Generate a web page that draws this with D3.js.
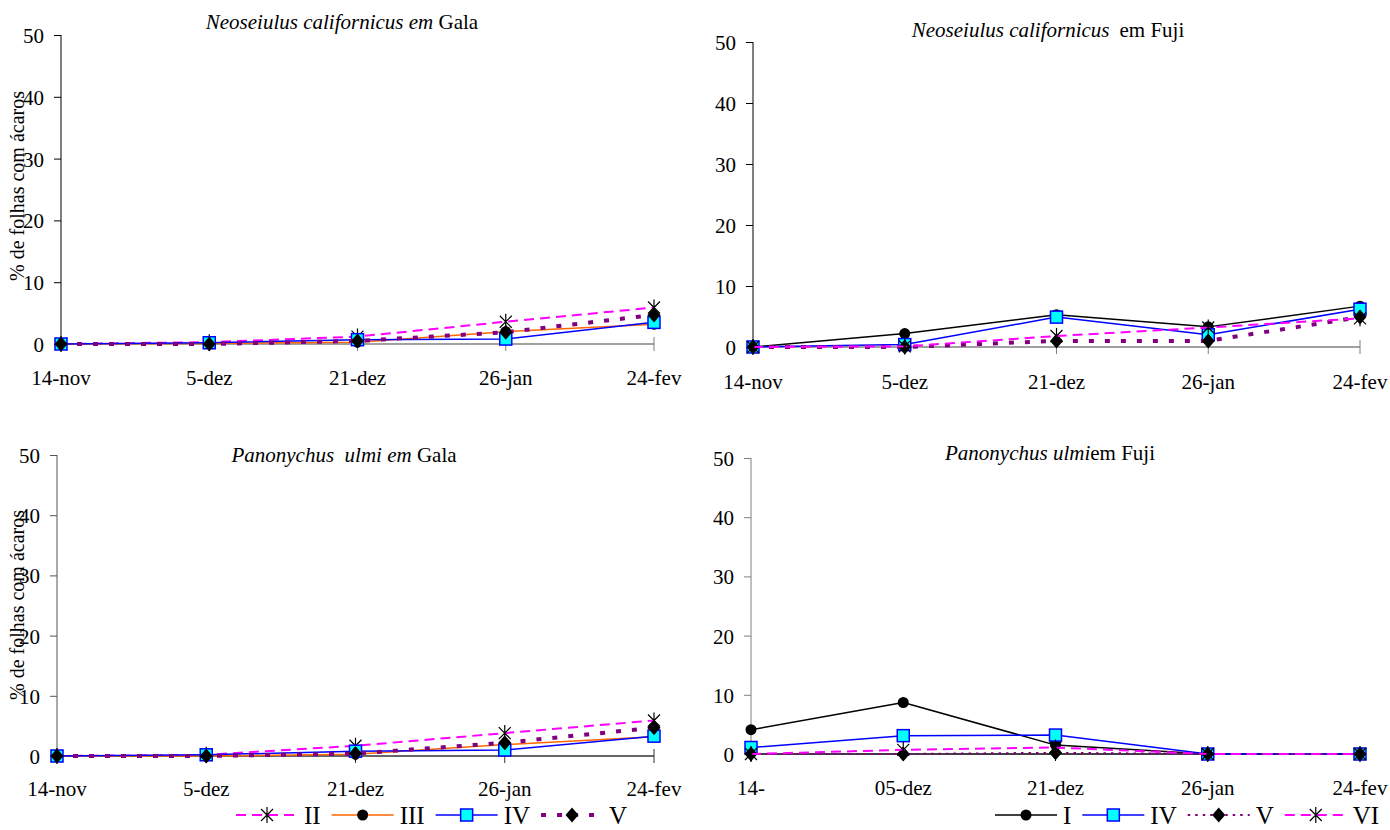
<!DOCTYPE html>
<html><head><meta charset="utf-8">
<script src="https://cdn.jsdelivr.net/npm/d3@7"></script>
<style>
body{margin:0;background:#fff}
svg{display:block}
text{font-family:"Liberation Serif","Times New Roman",Times,"DejaVu Serif",serif;fill:#000}
</style>
</head><body><svg id="chart" width="1390" height="830"></svg>
<script>
// ---------- data ----------
const categories = ["14-nov", "5-dez", "21-dez", "26-jan", "24-fev"];
const categoriesUlmiFuji = ["14-", "05-dez", "21-dez", "26-jan", "24-fev"];
const yTicks = [0, 10, 20, 30, 40, 50];

// Neoseiulus californicus em Gala
const ncGalaII  = [0, 0.3, 1.2, 3.6, 5.9];
const ncGalaIII = [0, 0.1, 0.3, 2.0, 3.2];
const ncGalaIV  = [0, 0.2, 0.7, 0.8, 3.5];
const ncGalaV   = [0, 0.0, 0.5, 1.9, 4.7];

// Neoseiulus californicus em Fuji
const ncFujiI  = [0, 2.2, 5.3, 3.3, 6.7];
const ncFujiIV = [0, 0.4, 4.9, 2.0, 6.2];
const ncFujiV  = [0, 0.0, 1.0, 1.0, 4.9];
const ncFujiVI = [0, 0.1, 1.8, 3.2, 4.7];

// Panonychus ulmi em Gala
const puGalaII  = [0, 0.2, 1.7, 3.8, 5.9];
const puGalaIII = [0, 0.0, 0.3, 1.9, 3.2];
const puGalaIV  = [0, 0.2, 0.8, 1.0, 3.3];
const puGalaV   = [0, 0.0, 0.4, 2.2, 4.7];

// Panonychus ulmi em Fuji
const puFujiI  = [4.1, 8.7, 1.5, 0, 0];
const puFujiIV = [1.1, 3.1, 3.2, 0, 0];
const puFujiV  = [0, 0, 0.2, 0, 0];
const puFujiVI = [0, 0.7, 1.1, 0, 0];

const legendGala = ["II", "III", "IV", "V"];
const legendFuji = ["I", "IV", "V", "VI"];

// ---------- styles ----------
const styles = {
  I:   {color: "#000000", width: 1.5, dash: null, marker: "circle"},
  II:  {color: "#FF00FF", width: 2,   dash: "10,6", marker: "star"},
  III: {color: "#FF6600", width: 1.5, dash: null, marker: "circle"},
  IV:  {color: "#0000FF", width: 1.5, dash: null, marker: "square"},
  V:   {color: "#800080", width: 4,   dash: "5,11", marker: "diamond"},
  Vthin: {color: "#800080", width: 2, dash: "2.5,5", marker: "diamond"},
  VI:  {color: "#FF00FF", width: 2,   dash: "10,6", marker: "star"}
};
const FONT = '"Liberation Serif","Times New Roman",Times,"DejaVu Serif",serif';

const svg = d3.select("#chart");

function drawMarker(g, type, x, y) {
  if (type === "circle") {
    g.append("circle").attr("cx", x).attr("cy", y).attr("r", 5.5).attr("fill", "#000");
  } else if (type === "square") {
    g.append("rect").attr("x", x - 6).attr("y", y - 6).attr("width", 12).attr("height", 12)
      .attr("fill", "#00FFFF").attr("stroke", "#0000FF").attr("stroke-width", 1.5);
  } else if (type === "diamond") {
    g.append("path").attr("d", `M${x},${y - 7.5}L${x + 6.5},${y}L${x},${y + 7.5}L${x - 6.5},${y}Z`).attr("fill", "#000");
  } else if (type === "star") {
    g.append("path").attr("d", `M${x - 6},${y - 6}L${x + 6},${y + 6}M${x - 6},${y + 6}L${x + 6},${y - 6}M${x},${y - 8}L${x},${y + 8}`)
      .attr("stroke", "#000").attr("stroke-width", 1.2).attr("fill", "none");
  }
}

function drawPanel(p) {
  const g = svg.append("g");
  const x = d3.scalePoint().domain(d3.range(p.labels.length)).range([p.x0, p.x1]);
  const y = d3.scaleLinear().domain([0, 50]).range([p.yBot, p.yTop]);

  // title
  const t = g.append("text").attr("x", p.titleX).attr("y", p.titleY)
    .attr("text-anchor", "middle").style("font-size", "21px").style("font-family", FONT);
  p.title.forEach(part => {
    const ts = t.append("tspan").text(part.t).style("font-style", part.i ? "italic" : "normal");
    if (part.dx) ts.attr("dx", part.dx);
  });

  // y axis
  const yAxis = d3.axisLeft(y).tickValues(yTicks).tickSize(7).tickPadding(10);
  const ya = g.append("g").attr("transform", `translate(${p.x0},0)`).call(yAxis);
  ya.attr("font-family", null).attr("font-size", null);
  ya.select(".domain").attr("stroke", p.yColor).attr("d", `M-0,${p.yTop}H0V${p.yBot}`);
  ya.selectAll(".tick line").attr("stroke", p.yColor);
  ya.selectAll(".tick text").style("font-size", "21px").style("font-family", FONT).attr("dy", "0.36em");

  // x axis
  const xa = g.append("g");
  xa.append("line").attr("x1", p.x0).attr("x2", p.x1).attr("y1", p.yBot).attr("y2", p.yBot)
    .attr("stroke", p.xColor).attr("stroke-width", 1.5);
  p.labels.forEach((lab, i) => {
    xa.append("line").attr("x1", x(i)).attr("x2", x(i)).attr("y1", p.yBot - 7).attr("y2", p.yBot + 7)
      .attr("stroke", p.xColor).attr("stroke-width", 1);
    xa.append("text").attr("x", x(i)).attr("y", p.labelY).attr("text-anchor", "middle")
      .style("font-size", "21px").style("font-family", FONT).text(lab);
  });

  // y label
  if (p.yLabel) {
    g.append("text").attr("transform", `translate(24,${p.yLabelC}) rotate(-90)`)
      .attr("text-anchor", "middle").style("font-size", "20px").style("font-family", FONT)
      .text("% de folhas com ácaros");
  }

  // series
  const line = d3.line().x((d, i) => x(i)).y(d => y(d));
  p.series.forEach(s => {
    const st = styles[s.style];
    const sg = g.append("g");
    sg.append("path").attr("d", line(s.values)).attr("fill", "none")
      .attr("stroke", st.color).attr("stroke-width", st.width)
      .attr("stroke-dasharray", st.dash).attr("stroke-linejoin", "round");
    s.values.forEach((v, i) => drawMarker(sg, st.marker, x(i), y(v)));
  });

  // legend
  if (p.legend) {
    let cx = p.legendX;
    p.legend.forEach((name, k) => {
      const st = styles[p.legendStyles[k]];
      const lg = g.append("g");
      lg.append("line").attr("x1", cx).attr("x2", cx + 62).attr("y1", p.legendY).attr("y2", p.legendY)
        .attr("stroke", st.color).attr("stroke-width", st.width).attr("stroke-dasharray", st.dash);
      drawMarker(lg, st.marker, cx + 31, p.legendY);
      const tx = lg.append("text").attr("x", cx + 68).attr("y", p.legendY + 8.5)
        .style("font-size", "25px").style("font-family", FONT).text(name);
      cx += 68 + tx.node().getComputedTextLength() + 11;
    });
  }
}

drawPanel({
  x0: 61, x1: 654, yTop: 35, yBot: 344, labels: categories, labelY: 385,
  titleX: 342, titleY: 29,
  title: [{t: "Neoseiulus californicus em", i: true}, {t: " Gala", i: false}],
  yColor: "#000", xColor: "#808080", yLabel: true, yLabelC: 186,
  series: [
    {style: "II", values: ncGalaII},
    {style: "III", values: ncGalaIII},
    {style: "IV", values: ncGalaIV},
    {style: "V", values: ncGalaV}
  ]
});

drawPanel({
  x0: 753, x1: 1360, yTop: 42, yBot: 347, labels: categories, labelY: 389,
  titleX: 1048, titleY: 37,
  title: [{t: "Neoseiulus californicus", i: true}, {t: "em Fuji", i: false, dx: 10}],
  yColor: "#000", xColor: "#808080", yLabel: false,
  series: [
    {style: "I", values: ncFujiI},
    {style: "IV", values: ncFujiIV},
    {style: "V", values: ncFujiV},
    {style: "VI", values: ncFujiVI}
  ]
});

drawPanel({
  x0: 57, x1: 654, yTop: 455, yBot: 756, labels: categories, labelY: 796,
  titleX: 344, titleY: 462,
  title: [{t: "Panonychus\u00A0\u00A0ulmi em", i: true}, {t: " Gala", i: false}],
  yColor: "#555", xColor: "#333", yLabel: true, yLabelC: 605,
  series: [
    {style: "II", values: puGalaII},
    {style: "III", values: puGalaIII},
    {style: "IV", values: puGalaIV},
    {style: "V", values: puGalaV}
  ],
  legend: legendGala, legendStyles: ["II", "III", "IV", "V"], legendX: 236, legendY: 815
});

drawPanel({
  x0: 751, x1: 1360, yTop: 458, yBot: 754, labels: categoriesUlmiFuji, labelY: 795,
  titleX: 1050, titleY: 460,
  title: [{t: "Panonychus ulmi", i: true}, {t: "em Fuji", i: false}],
  yColor: "#808080", xColor: "#000", yLabel: false,
  series: [
    {style: "I", values: puFujiI},
    {style: "IV", values: puFujiIV},
    {style: "Vthin", values: puFujiV},
    {style: "VI", values: puFujiVI}
  ],
  legend: legendFuji, legendStyles: ["I", "IV", "Vthin", "VI"], legendX: 995, legendY: 815
});
</script>
</body></html>
